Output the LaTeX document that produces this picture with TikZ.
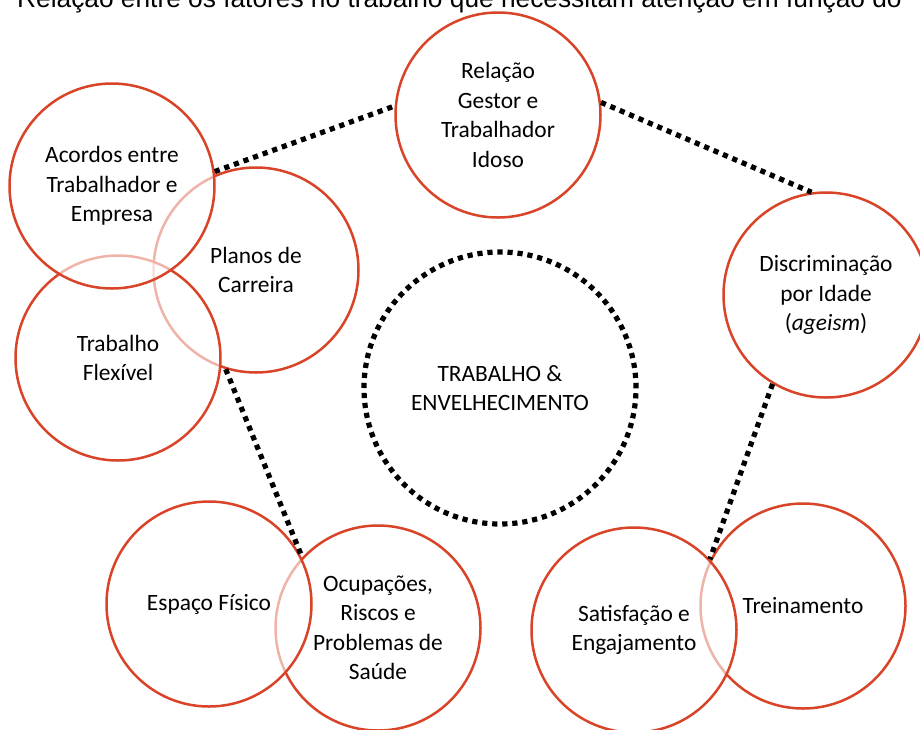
\documentclass[tikz,border=0pt]{standalone}
\usepackage{fontspec}
\setmainfont{Carlito}
\newfontfamily\titlefont{Liberation Sans}
\definecolor{circred}{RGB}{217,68,41}
\begin{document}
\begin{tikzpicture}[x=1pt,y=-1pt,
  factor/.style={circle, draw=circred, line width=2.5pt, fill=white, fill opacity=0.6, text opacity=1,
    minimum size=205pt, inner sep=0pt, align=center, text=black,
    font=\fontsize{23.4}{29.5}\selectfont},
  link/.style={line width=5.2pt, dash pattern=on 5.2pt off 5pt, black},
  hub/.style={circle, draw=black, line width=5.2pt, dash pattern=on 5.2pt off 4.85pt,
    minimum size=272pt, inner sep=0pt, align=center, text=black,
    font=\fontsize{23.4}{29.5}\selectfont}
]
\useasboundingbox (0,0) rectangle (920,729);
\node[anchor=base west, inner sep=0pt, font=\titlefont\fontsize{26.3}{30}\selectfont] (title) at (17,7)
  {Relação entre os fatores no trabalho que necessitam atenção em função do};
\node[factor] (rel) at (498,115) {Relação\\Gestor e\\Trabalhador\\Idoso};
\node[factor] (disc) at (826,295) {Discriminação\\por Idade\\(\textit{ageism})};
\node[factor] (plan) at (256,270) {Planos de\\Carreira};
\node[factor] (flex) at (118,358) {Trabalho\\Flexível};
\node[factor] (acor) at (112,186) {Acordos entre\\Trabalhador e\\Empresa};
\node[factor] (ocup) at (378,628) {Ocupações,\\Riscos e\\Problemas de\\Saúde};
\node[factor] (esp) at (209,604) {Espaço Físico};
\node[factor] (trein) at (803,606) {Treinamento};
\node[factor] (sat) at (634,630) {Satisfação e\\Engajamento};
\node[hub] (hubc) at (500,388) {TRABALHO \&\\ENVELHECIMENTO};
\draw[link] (acor.8) -- (rel.175);
\draw[link] (rel.7) -- (disc.98);
\draw[link] (disc.-121) -- (sat.43);
\draw[link] (plan.-107) -- (ocup.137);
\end{tikzpicture}
\end{document}
